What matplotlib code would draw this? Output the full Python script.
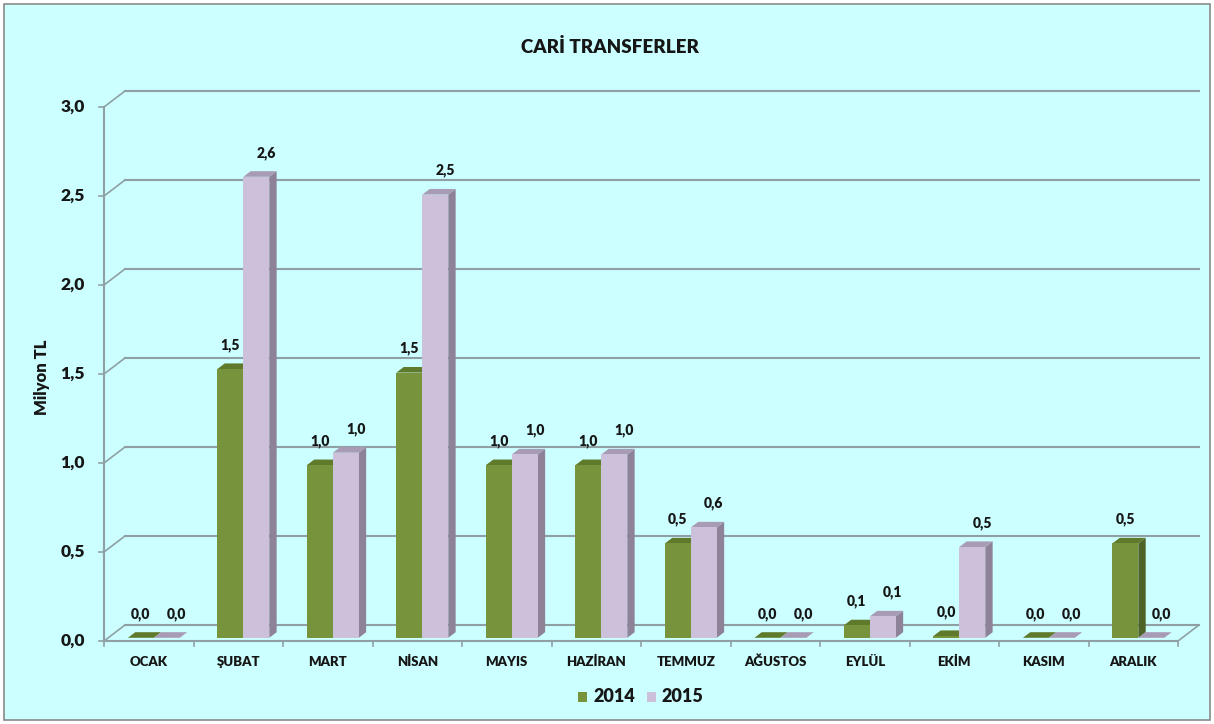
import matplotlib.pyplot as plt
from matplotlib.patches import Polygon, Rectangle

plt.rcParams['font.family'] = ['Lato', 'DejaVu Sans']
plt.rcParams['font.weight'] = 'heavy'

aylar = ['OCAK', 'ŞUBAT', 'MART', 'NİSAN', 'MAYIS', 'HAZİRAN', 'TEMMUZ',
         'AĞUSTOS', 'EYLÜL', 'EKİM', 'KASIM', 'ARALIK']
deger_2014 = [0.0, 1.51, 0.97, 1.49, 0.97, 0.97, 0.53, 0.0, 0.07, 0.01, 0.0, 0.53]
deger_2015 = [0.0, 2.59, 1.04, 2.49, 1.03, 1.03, 0.62, 0.0, 0.12, 0.51, 0.0, 0.0]
etiket_2014 = ['0,0', '1,5', '1,0', '1,5', '1,0', '1,0', '0,5', '0,0', '0,1', '0,0', '0,0', '0,5']
etiket_2015 = ['0,0', '2,6', '1,0', '2,5', '1,0', '1,0', '0,6', '0,0', '0,1', '0,5', '0,0', '0,0']
y_ticks = [0.0, 0.5, 1.0, 1.5, 2.0, 2.5, 3.0]
y_labels = ['0,0', '0,5', '1,0', '1,5', '2,0', '2,5', '3,0']

W, H = 1214, 724
fig = plt.figure(figsize=(W / 100, H / 100), dpi=100)
fig.patch.set_facecolor('white')
fig.patches.append(Rectangle((4 / W, 4 / H), 1 - 8 / W, 1 - 8 / H, transform=fig.transFigure,
                             facecolor='#CCFFFF', edgecolor='#8a8a8a', lw=1.2, zorder=-10))

# front plot area in pixels: x 104..1178, y 641 (0) .. 107 (3.0)
ax = fig.add_axes([104 / W, (H - 641) / H, 1074 / W, 534 / H])
ax.set_xlim(0, 12)
ax.set_ylim(0, 3)
ax.axis('off')

px_x = 1074 / 12
px_y = 534 / 3
dxw, dyw = 21 / px_x, 16 / px_y   # wall depth
grid_c = '#8fa0a4'
txt_c = '#161616'

# back wall grid lines + left wall connectors
for v in y_ticks:
    ax.plot([dxw, 12 + dxw], [v + dyw, v + dyw], color=grid_c, lw=1.5, clip_on=False, zorder=1)
    ax.plot([0, dxw], [v, v + dyw], color=grid_c, lw=1.2, clip_on=False, zorder=1)
    ax.plot([-5 / px_x, 0], [v, v], color=grid_c, lw=1.2, clip_on=False, zorder=1)
# floor
ax.plot([0, 12], [0, 0], color=grid_c, lw=1.5, clip_on=False, zorder=1)
ax.plot([12, 12 + dxw], [0, dyw], color=grid_c, lw=1.2, clip_on=False, zorder=1)
ax.plot([0, 0], [0, 3], color=grid_c, lw=1.5, clip_on=False, zorder=1)
for i in range(13):
    ax.plot([i, i], [0, -5 / px_y], color=grid_c, lw=1.2, clip_on=False, zorder=1)

for v, lab in zip(y_ticks, y_labels):
    ax.text(-19 / px_x, v, lab, ha='right', va='center', fontsize=12.5, color=txt_c)

for i, ay in enumerate(aylar):
    ax.text(i + 0.5, -21 / px_y, ay, ha='center', va='center', fontsize=9.5, color=txt_c)

# bars: front face offset into the depth
f0, f1 = 0.2, 0.55
ox, oy = f0 * dxw, f0 * dyw
sx, sy = (f1 - f0) * dxw, (f1 - f0) * dyw
bw = 0.29

renkler = [('#77933C', '#4F6228', '#5E7A2A'), ('#CCC0DA', '#8E8299', '#A89BB5')]


def bar3d(x0, h, cols, z):
    front, side, top = cols
    x, y = x0 + ox, oy
    ax.add_patch(Polygon([(x + bw, y), (x + bw + sx, y + sy), (x + bw + sx, y + h + sy),
                          (x + bw, y + h)], closed=True, facecolor=side, edgecolor='none',
                         zorder=z, clip_on=False))
    ax.add_patch(Polygon([(x, y + h), (x + sx, y + h + sy), (x + bw + sx, y + h + sy),
                          (x + bw, y + h)], closed=True, facecolor=top, edgecolor='none',
                         zorder=z, clip_on=False))
    if h > 0:
        ax.add_patch(Rectangle((x, y), bw, h, facecolor=front, edgecolor='none', zorder=z,
                               clip_on=False))


z = 2
for i in range(12):
    for k, (vals, labs) in enumerate([(deger_2014, etiket_2014), (deger_2015, etiket_2015)]):
        x0 = i + 0.22 + k * bw
        bar3d(x0, vals[i], renkler[k], z)
        z += 1
        lx = x0 + ox + bw / 2 + (10 / px_x if k == 1 else 0)
        ax.text(lx, vals[i] + oy + 24 / px_y, labs[i], ha='center', va='center', fontsize=10,
                color=txt_c, zorder=50)

fig.text(610 / W, 1 - 47 / H, 'CARİ TRANSFERLER', ha='center', va='center', fontsize=13.5,
         color=txt_c)
fig.text(42 / W, 1 - 377 / H, 'Milyon TL', ha='center', va='center', rotation=90, fontsize=12,
         color=txt_c)

# legend
for xs, col, lab in [(578, '#77933C', '2014'), (647, '#CCC0DA', '2015')]:
    fig.patches.append(Rectangle((xs / W, 1 - 702 / H), 9 / W, 10 / H, transform=fig.transFigure,
                                 facecolor=col, edgecolor='none'))
    fig.text((xs + 15) / W, 1 - 697 / H, lab, ha='left', va='center', fontsize=13,
             color=txt_c)

fig.savefig('out.png', dpi=100)
